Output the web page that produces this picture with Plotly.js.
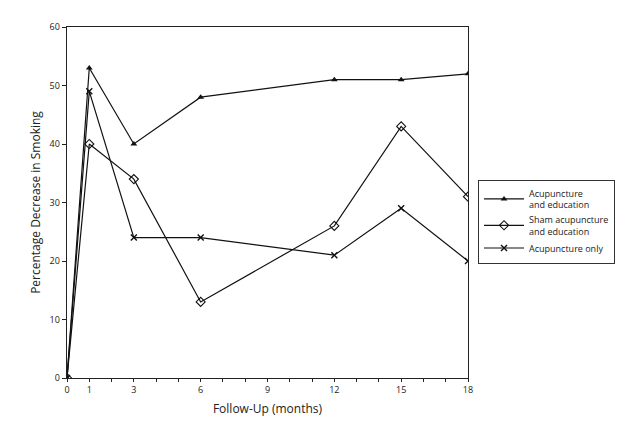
<!DOCTYPE html>
<html>
<head>
<meta charset="utf-8">
<script src="https://cdn.plot.ly/plotly-3.0.1.min.js"></script>
<style>html,body{margin:0;padding:0;background:#fff}#chart{width:640px;height:438px}</style>
</head>
<body>
<div id="chart"></div>
<script>
const months = [0, 1, 3, 6, 12, 15, 18];
const acuEdu = [0, 53, 40, 48, 51, 51, 52];
const shamEdu = [0, 40, 34, 13, 26, 43, 31];
const acuOnly = [0, 49, 24, 24, 21, 29, 20];
const seriesNames = ['Acupuncture<br>and education', 'Sham acupuncture<br>and education', 'Acupuncture only'];
const xTickVals = [0, 1, 2, 3, 4, 5, 6, 7, 8, 9, 10, 11, 12, 13, 14, 15, 16, 17, 18];
const xTickText = ['0', '1', '', '3', '', '', '6', '', '', '9', '', '', '12', '', '', '15', '', '', '18'];
const yTickVals = [0, 10, 20, 30, 40, 50, 60];

const lineStyle = {color: '#111', width: 1.2};
const traces = [
  {x: months, y: acuEdu, name: seriesNames[0], mode: 'lines+markers', line: lineStyle,
   marker: {symbol: 'triangle-up', size: 6, color: '#111'}},
  {x: months, y: shamEdu, name: seriesNames[1], mode: 'lines+markers', line: lineStyle,
   marker: {symbol: 'diamond-open', size: 7, color: '#111', line: {width: 1.1}}},
  {x: months, y: acuOnly, name: seriesNames[2], mode: 'lines+markers', line: lineStyle,
   marker: {symbol: 'x-thin-open', size: 6, color: '#111', line: {width: 1.4}}}
];

const layout = {
  width: 640, height: 438,
  margin: {l: 67, r: 172, t: 27, b: 60},
  paper_bgcolor: '#fff', plot_bgcolor: '#fff',
  font: {family: 'Open Sans, sans-serif', size: 9, color: '#222'},
  showlegend: true,
  legend: {x: 1.025, y: 0.565, xanchor: 'left', yanchor: 'top',
    bordercolor: '#333', borderwidth: 1, bgcolor: '#fff',
    font: {size: 9, color: '#222'}, itemwidth: 40, tracegroupgap: 0},
  xaxis: {
    range: [0, 18], tickvals: xTickVals, ticktext: xTickText,
    showgrid: false, zeroline: false, showline: true, linecolor: '#222', linewidth: 1.3,
    mirror: true, ticks: 'outside', ticklen: 3, tickcolor: '#222',
    tickfont: {size: 9}, title: {text: 'Follow-Up (months)', font: {size: 12, color: '#222'}, standoff: 9}
  },
  yaxis: {
    range: [0, 60], tickvals: yTickVals,
    showgrid: false, zeroline: false, showline: true, linecolor: '#222', linewidth: 1.3,
    mirror: true, ticks: 'outside', ticklen: 4, tickcolor: '#222',
    tickfont: {size: 9}, title: {text: 'Percentage Decrease in Smoking', font: {size: 12, color: '#222'}, standoff: 6}
  }
};

Plotly.newPlot('chart', traces, layout, {displayModeBar: false, staticPlot: true});
</script>
</body>
</html>
